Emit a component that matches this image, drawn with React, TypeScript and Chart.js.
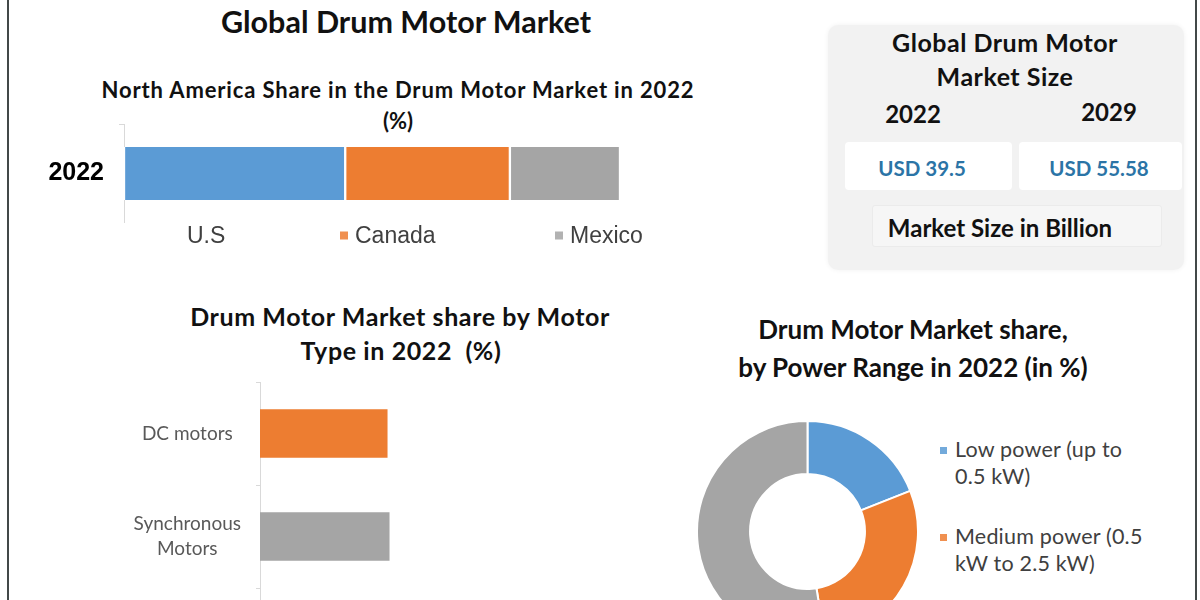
import React, { useEffect, useRef } from "react";
import { Chart, registerables } from "chart.js";

Chart.register(...registerables);

// ---------- data ----------
const pageTitle = "Global Drum Motor Market";

const naTitleLines = ["North America Share in the Drum Motor Market in 2022", "(%)"];
const naCategories = ["2022"];
const naSeries = ["U.S", "Canada", "Mexico"];
const naValues = [44.6, 33.2, 22.2];
const naColors = ["#5b9bd5", "#ed7d31", "#a5a5a5"];

const marketTitleLines = ["Global Drum Motor", "Market Size"];
const marketYears = ["2022", "2029"];
const marketValues = ["USD 39.5", "USD 55.58"];
const marketUnit = "Market Size in Billion";

const motorTitleLines = ["Drum Motor Market share by Motor", "Type in 2022  (%)"];
const motorTypes: (string | string[])[] = ["DC motors", ["Synchronous", "Motors"], ""];
const motorValues: (number | null)[] = [31.8, 32.3, null];
const motorColors = ["#ed7d31", "#a5a5a5", "#ffc000"];

const powerTitleLines = ["Drum Motor Market share,", "by Power Range in 2022 (in %)"];
const powerRanges = ["Low power (up to 0.5 kW)", "Medium power (0.5 kW to 2.5 kW)", "High power (above 2.5 kW)"];
const powerLegendLines = [["Low power (up to", "0.5 kW)"], ["Medium power (0.5", "kW to 2.5 kW)"]];
const powerValues = [19, 28.5, 52.5];
const powerColors = ["#5b9bd5", "#ed7d31", "#a5a5a5"];

const CAL = "Lato, 'Open Sans', sans-serif";
const ARI = "'Liberation Sans', Arial, sans-serif";

type TP = {
  x: number; y: number; size: number; weight?: number; color?: string;
  family?: string; align?: "center" | "left"; ls?: number; children: React.ReactNode;
};
const T = ({ x, y, size, weight = 700, color = "#111", family = CAL, align = "center", ls = 0, children }: TP) => (
  <div
    style={{
      position: "absolute", left: x, top: y,
      transform: align === "center" ? "translate(-50%,-50%)" : "translate(0,-50%)",
      whiteSpace: "pre", fontFamily: family, fontSize: size, fontWeight: weight,
      color, lineHeight: 1.2, letterSpacing: ls,
    }}
  >
    {children}
  </div>
);

const noPad = (w: number) => (s: any) => {
  s.width = w;
  s.paddingTop = 0;
  s.paddingBottom = 0;
};

export default function App() {
  const naRef = useRef<HTMLCanvasElement>(null);
  const motorRef = useRef<HTMLCanvasElement>(null);
  const powerRef = useRef<HTMLCanvasElement>(null);

  useEffect(() => {
    const charts: Chart[] = [];

    charts.push(
      new Chart(naRef.current!, {
        type: "bar",
        data: {
          labels: naCategories,
          datasets: naSeries.map((s, i) => ({
            label: s,
            data: [naValues[i]],
            backgroundColor: naColors[i],
            borderColor: "#ffffff",
            borderWidth: { left: 1.5, right: 1.5, top: 0, bottom: 0 },
            borderSkipped: false,
            barThickness: 53,
          })),
        },
        options: {
          indexAxis: "y",
          responsive: false,
          animation: false,
          layout: { padding: 0 },
          plugins: { legend: { display: false }, tooltip: { enabled: false } },
          scales: {
            x: { stacked: true, display: false, min: 0, max: 100 },
            y: {
              stacked: true,
              afterFit: noPad(94),
              grid: { display: true, drawOnChartArea: false, tickLength: 5, color: "#d9d9d9" },
              border: { display: true, color: "#d9d9d9", width: 1 },
              ticks: { color: "#000", padding: 15, font: { family: ARI, size: 25, weight: "bold" } },
            },
          },
        },
      } as any)
    );

    charts.push(
      new Chart(motorRef.current!, {
        type: "bar",
        data: {
          labels: motorTypes,
          datasets: [
            {
              label: "Share",
              data: motorValues,
              backgroundColor: motorColors,
              barThickness: 48,
            },
          ],
        },
        options: {
          indexAxis: "y",
          responsive: false,
          animation: false,
          layout: { padding: 0 },
          plugins: { legend: { display: false }, tooltip: { enabled: false } },
          scales: {
            x: { display: false, min: 0, max: 100 },
            y: {
              afterFit: noPad(160),
              grid: { display: true, drawOnChartArea: false, tickLength: 4, color: "#d9d9d9" },
              border: { display: true, color: "#d9d9d9", width: 1 },
              ticks: {
                color: "#595959", padding: 15, crossAlign: "center",
                font: { family: CAL, size: 19, lineHeight: 1.3 },
              },
            },
          },
        },
      } as any)
    );

    charts.push(
      new Chart(powerRef.current!, {
        type: "doughnut",
        data: {
          labels: powerRanges,
          datasets: [
            { data: powerValues, backgroundColor: powerColors, borderColor: "#ffffff", borderWidth: 2 },
          ],
        },
        options: {
          responsive: false,
          animation: false,
          cutout: "52%",
          layout: { padding: 0 },
          plugins: { legend: { display: false }, tooltip: { enabled: false } },
        },
      } as any)
    );

    return () => charts.forEach((c) => c.destroy());
  }, []);

  const naLegend = [
    { x: 187, marker: false },
    { x: 340, marker: true },
    { x: 555, marker: true },
  ];

  return (
    <div
      style={{
        position: "absolute", left: 0, top: 0, width: 1200, height: 600,
        overflow: "hidden", background: "#ffffff",
      }}
    >
      {/* frame */}
      <div style={{ position: "absolute", left: 7, top: 0, width: 2, height: 600, background: "#434848" }} />
      <div style={{ position: "absolute", left: 1195, top: 0, width: 2, height: 600, background: "#434848" }} />

      <T x={406} y={21} size={30.5}>{pageTitle}</T>

      {/* North America chart */}
      <T x={398} y={90} size={22} ls={0.85}>{naTitleLines[0]}</T>
      <T x={398} y={121} size={22}>{naTitleLines[1]}</T>
      <canvas
        ref={naRef}
        width={590}
        height={99}
        style={{ position: "absolute", left: 30, top: 124, width: 590, height: 99 }}
      />
      {naSeries.map((s, i) => (
        <div key={s} style={{ position: "absolute", left: naLegend[i].x, top: 235, transform: "translateY(-50%)", display: "flex", alignItems: "center" }}>
          {naLegend[i].marker && (
            <div style={{ width: 8, height: 8, background: naColors[i], marginRight: 7, opacity: 0.85 }} />
          )}
          <span style={{ fontFamily: ARI, fontSize: 23, color: "#404040", whiteSpace: "nowrap" }}>{s}</span>
        </div>
      ))}

      {/* Market size box */}
      <div
        style={{
          position: "absolute", left: 828, top: 25, width: 356, height: 245,
          background: "#f2f2f2", borderRadius: 10, boxShadow: "0 0 5px rgba(0,0,0,0.06)",
        }}
      />
      <T x={1005} y={42} size={25} ls={0.5}>{marketTitleLines[0]}</T>
      <T x={1005} y={76} size={25} ls={0.5}>{marketTitleLines[1]}</T>
      <T x={913} y={114} size={24}>{marketYears[0]}</T>
      <T x={1109} y={112} size={24}>{marketYears[1]}</T>
      <div style={{ position: "absolute", left: 845, top: 142, width: 167, height: 48, background: "#ffffff", borderRadius: 4 }} />
      <div style={{ position: "absolute", left: 1019, top: 142, width: 163, height: 48, background: "#ffffff", borderRadius: 4 }} />
      <T x={922} y={168} size={20.5} color="#2b74a6">{marketValues[0]}</T>
      <T x={1099} y={168} size={20.5} color="#2b74a6">{marketValues[1]}</T>
      <div style={{ position: "absolute", left: 872, top: 205, width: 288, height: 40, background: "#f6f6f6", border: "1px solid #ebebeb", borderRadius: 3 }} />
      <T x={1000} y={228} size={24}>{marketUnit}</T>

      {/* Motor type chart */}
      <T x={400} y={316} size={25} ls={0.6}>{motorTitleLines[0]}</T>
      <T x={401} y={350} size={25} ls={0.6}>{motorTitleLines[1]}</T>
      <canvas
        ref={motorRef}
        width={560}
        height={309}
        style={{ position: "absolute", left: 100, top: 382, width: 560, height: 309 }}
      />

      {/* Power range chart */}
      <T x={913} y={330} size={26}>{powerTitleLines[0]}</T>
      <T x={913} y={368} size={26}>{powerTitleLines[1]}</T>
      <canvas
        ref={powerRef}
        width={223}
        height={223}
        style={{ position: "absolute", left: 696, top: 420, width: 223, height: 223 }}
      />
      {powerLegendLines.map((lines, i) => (
        <React.Fragment key={i}>
          <div style={{ position: "absolute", left: 940, top: 447 + i * 87, width: 7, height: 7, background: powerColors[i], opacity: 0.85 }} />
          {lines.map((ln, j) => (
            <T key={j} x={955} y={450 + i * 87 + j * 27} size={21.5} weight={400} color="#404040" align="left" ls={0.2}>{ln}</T>
          ))}
        </React.Fragment>
      ))}
    </div>
  );
}
